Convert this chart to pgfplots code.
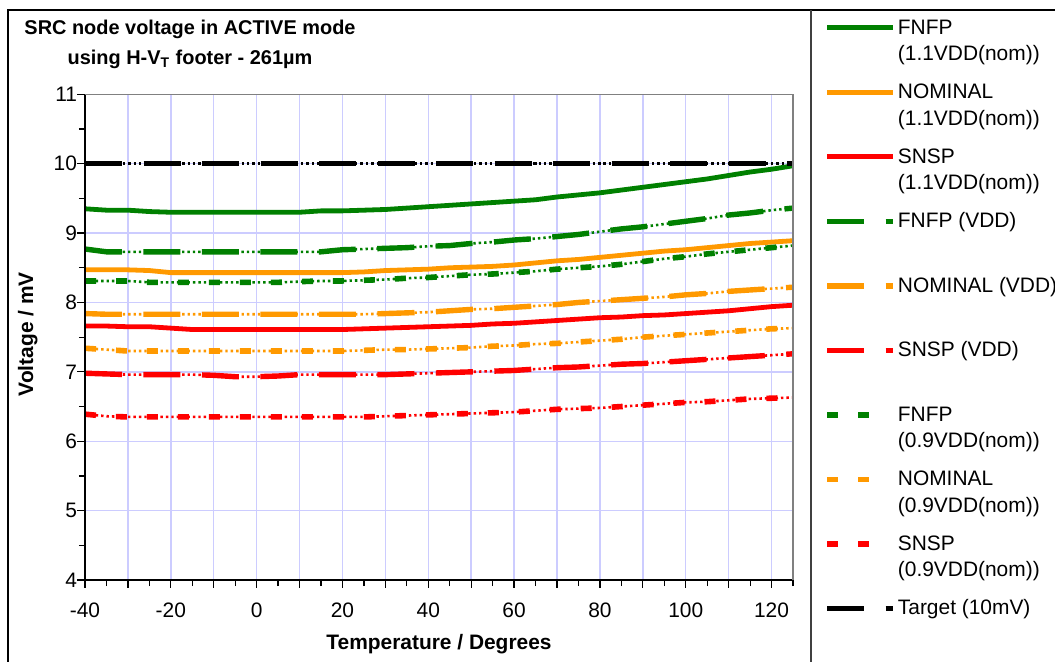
\documentclass[border=0pt]{standalone}
\usepackage{pgfplots}
\usepackage{pgfplotstable}
\pgfplotsset{compat=1.18}
\usepackage{fontspec}
\setmainfont{Liberation Sans}
\definecolor{cgreen}{HTML}{008000}
\definecolor{corange}{HTML}{FF9900}
\definecolor{cred}{HTML}{FF0000}
\definecolor{cgrid}{HTML}{CCCCFF}
\newcommand{\LE}[2]{\rule[-1bp]{0pt}{8.7bp}\rlap{\raisebox{-13.4bp}[0pt][0pt]{#2}}\smash{#1}}
\newcommand{\LS}[1]{\rule[-1bp]{0pt}{8.7bp}\smash{#1}}

\pgfplotstableread{
T    A1   A2   A3   B1   B2   B3   C1   C2   C3   Tg
-40  9.35 8.47 7.66 8.77 7.84 6.98 8.31 7.34 6.39 10
-35  9.33 8.47 7.66 8.73 7.83 6.97 8.31 7.32 6.36 10
-30  9.33 8.47 7.65 8.73 7.83 6.96 8.31 7.30 6.35 10
-25  9.31 8.46 7.65 8.73 7.83 6.96 8.29 7.30 6.35 10
-20  9.30 8.43 7.63 8.73 7.83 6.96 8.29 7.30 6.35 10
-15  9.30 8.43 7.61 8.73 7.83 6.96 8.29 7.30 6.35 10
-10  9.30 8.43 7.61 8.73 7.83 6.95 8.29 7.30 6.35 10
-5   9.30 8.43 7.61 8.73 7.83 6.93 8.29 7.30 6.35 10
0    9.30 8.43 7.61 8.73 7.83 6.93 8.29 7.30 6.35 10
5    9.30 8.43 7.61 8.73 7.83 6.94 8.29 7.30 6.35 10
10   9.30 8.43 7.61 8.73 7.83 6.96 8.30 7.30 6.35 10
15   9.32 8.43 7.61 8.73 7.83 6.96 8.31 7.30 6.35 10
20   9.32 8.43 7.61 8.76 7.83 6.96 8.31 7.30 6.35 10
25   9.33 8.44 7.62 8.77 7.83 6.96 8.32 7.31 6.35 10
30   9.34 8.46 7.63 8.78 7.84 6.96 8.33 7.32 6.36 10
35   9.36 8.47 7.64 8.79 7.85 6.97 8.35 7.32 6.37 10
40   9.38 8.48 7.65 8.81 7.86 6.98 8.36 7.33 6.38 10
45   9.40 8.50 7.66 8.82 7.88 6.99 8.38 7.34 6.39 10
50   9.42 8.51 7.67 8.85 7.90 7.00 8.40 7.35 6.40 10
55   9.44 8.52 7.69 8.87 7.91 7.01 8.41 7.37 6.41 10
60   9.46 8.54 7.70 8.90 7.93 7.02 8.43 7.38 6.42 10
65   9.48 8.57 7.72 8.92 7.95 7.04 8.45 7.40 6.44 10
70   9.52 8.60 7.74 8.95 7.97 7.06 8.48 7.41 6.46 10
75   9.55 8.62 7.76 8.98 8.00 7.07 8.50 7.43 6.47 10
80   9.58 8.65 7.78 9.02 8.02 7.09 8.52 7.45 6.48 10
85   9.62 8.68 7.79 9.06 8.04 7.11 8.55 7.47 6.50 10
90   9.66 8.71 7.81 9.09 8.06 7.12 8.59 7.50 6.52 10
95   9.70 8.74 7.82 9.13 8.08 7.14 8.63 7.52 6.54 10
100  9.74 8.76 7.84 9.17 8.11 7.16 8.66 7.54 6.56 10
105  9.78 8.79 7.86 9.21 8.13 7.18 8.70 7.56 6.57 10
110  9.83 8.82 7.88 9.26 8.16 7.20 8.73 7.58 6.59 10
115  9.88 8.85 7.91 9.29 8.18 7.22 8.76 7.60 6.61 10
120  9.92 8.87 7.94 9.33 8.20 7.24 8.79 7.62 6.62 10
125  9.97 8.89 7.96 9.36 8.22 7.26 8.82 7.63 6.63 10
}\data

\pgfplotsset{
  solidS/.style={line width=2.4bp, legend image code/.code={\draw[##1] (0bp,0bp) -- (33bp,0bp);}},
  ldS/.style={line width=2.7bp, dash pattern=on 18.5bp off 10.75bp, legend image code/.code={\draw[##1] (0bp,0bp) -- (33bp,0bp);}},
  dotS/.style={line width=1.3bp, dash pattern=on 1.2bp off 1.5bp},
  shS/.style={line width=2.8bp, dash pattern=on 5.5bp off 10bp, legend image code/.code={\draw[##1] (0bp,0bp) -- (21bp,0bp);}},
}

\begin{document}
\begin{tikzpicture}
\path[use as bounding box] (0,0) rectangle (527.5bp,331bp);
\draw[black, line width=0.6bp] (4bp,0) -- (4bp,326bp) -- (527.5bp,326bp);
\draw[black!75, line width=0.6bp] (405.5bp,0) -- (405.5bp,326bp);
\node[font=\bfseries\fontsize{10}{15}\selectfont, align=center] at (95bp,309bp)
  {SRC node voltage in ACTIVE mode\\using H-V\textsubscript{T} footer - 261µm};
\begin{axis}[
  at={(42.5bp,41bp)}, anchor=south west,
  scale only axis, width=354bp, height=242.85bp,
  xmin=-40, xmax=125, ymin=4, ymax=11,
  clip=false,
  axis line style={draw=none},
  xtick={-40,-30,...,120},
  xticklabels={-40,,-20,,0,,20,,40,,60,,80,,100,,120},
  minor xtick={-35,-25,...,125},
  ytick={4,5,...,11},
  yticklabels={4,5,6,7,8,9,10,11},
  minor ytick={4.5,5.5,...,10.5},
  xtick pos=bottom, ytick pos=left,
  tick align=outside,
  major tick length=3.8bp, minor tick length=3bp,
  tick style={black, line width=0.6bp},
  xmajorgrids, ymajorgrids,
  grid style={cgrid, line width=0.7bp},
  ticklabel style={font=\fontsize{10.5}{12}\selectfont},
  xticklabel style={inner sep=0pt, yshift=-7.6bp},
  yticklabel style={inner sep=0pt},
  xlabel={Temperature / Degrees},
  ylabel={Voltage / mV},
  label style={font=\bfseries\fontsize{10.5}{12}\selectfont},
  xlabel style={at={(axis description cs:0.5,-0.1441)}, anchor=base},
  ylabel style={at={(axis description cs:-0.0734,0.506)}, anchor=base},
  legend cell align=left,
  legend style={at={(axis description cs:1.0438,1.1565)}, anchor=north west,
    draw=none, fill=none, inner sep=0pt, row sep=23.05bp, column sep=1bp,
    nodes={inner sep=0pt}, font=\fontsize{10.5}{12}\selectfont},
]
\addplot[cgreen, solidS] table[x=T,y=A1]{\data};
\addlegendentry{\LE{FNFP}{(1.1VDD(nom))}}
\addplot[corange, solidS] table[x=T,y=A2]{\data};
\addlegendentry{\LE{NOMINAL}{(1.1VDD(nom))}}
\addplot[cred, solidS] table[x=T,y=A3]{\data};
\addlegendentry{\LE{SNSP}{(1.1VDD(nom))}}

\addplot[cgreen, dotS, forget plot] table[x=T,y=B1]{\data};
\addplot[cgreen, ldS] table[x=T,y=B1]{\data};
\addlegendentry{\LS{FNFP (VDD)}}
\addplot[corange, dotS, forget plot] table[x=T,y=B2]{\data};
\addplot[corange, ldS] table[x=T,y=B2]{\data};
\addlegendentry{\LS{NOMINAL (VDD)}}
\addplot[cred, dotS, forget plot] table[x=T,y=B3]{\data};
\addplot[cred, ldS] table[x=T,y=B3]{\data};
\addlegendentry{\LS{SNSP (VDD)}}

\addplot[cgreen, dotS, forget plot] table[x=T,y=C1]{\data};
\addplot[cgreen, shS] table[x=T,y=C1]{\data};
\addlegendentry{\LE{FNFP}{(0.9VDD(nom))}}
\addplot[corange, dotS, forget plot] table[x=T,y=C2]{\data};
\addplot[corange, shS] table[x=T,y=C2]{\data};
\addlegendentry{\LE{NOMINAL}{(0.9VDD(nom))}}
\addplot[cred, dotS, forget plot] table[x=T,y=C3]{\data};
\addplot[cred, shS] table[x=T,y=C3]{\data};
\addlegendentry{\LE{SNSP}{(0.9VDD(nom))}}

\addplot[black, dotS, forget plot] table[x=T,y=Tg]{\data};
\addplot[black, ldS] table[x=T,y=Tg]{\data};
\addlegendentry{\LS{Target (10mV)}}

\draw[black, line width=0.8bp] (rel axis cs:0,1) -- (rel axis cs:0,0) -- (rel axis cs:1,0);
\draw[black!50, line width=0.7bp] (rel axis cs:0,1) -- (rel axis cs:1,1);
\draw[black!50, line width=1.1bp] (rel axis cs:1,1) -- (rel axis cs:1,0);
\end{axis}
\end{tikzpicture}
\end{document}
